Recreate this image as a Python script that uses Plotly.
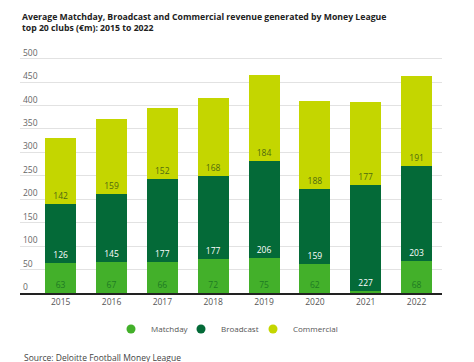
import plotly.graph_objects as go

years = ["2015", "2016", "2017", "2018", "2019", "2020", "2021", "2022"]
matchday = [63, 67, 66, 72, 75, 62, 4, 68]
broadcast = [126, 145, 177, 177, 206, 159, 227, 203]
commercial = [142, 159, 152, 168, 184, 188, 177, 191]

y_ticks = [0, 50, 100, 150, 200, 250, 300, 350, 400, 450, 500]

FONT = "Open Sans"
C_MATCH = "#43B02A"
C_BROAD = "#046A38"
C_COMM = "#C4D600"

# page body has an 8px default margin: draw a figure 8px smaller and
# express all positions in page pixels minus that offset
OFF = 8
W, H = 474 - OFF, 362 - OFF
PL, PR, PT, PB = 20 - OFF, 442 - OFF, 42 - OFF, 293 - OFF   # plot area box
YMAX = (293 - 42) / ((293 - 58.6) / 500)

def labels(vals):
    return [str(v) if v >= 10 else "" for v in vals]

series = [
    ("Matchday", matchday, C_MATCH, "#1E7A23"),
    ("Broadcast", broadcast, C_BROAD, "#FFFFFF"),
    ("Commercial", commercial, C_COMM, "#4E6A10"),
]
# left edge (page px) of each legend entry
legend_left = [111, 181, 253]
legend_ids = ["legend", "legend2", "legend3"]

fig = go.Figure()
for name, vals, col, tcol in series:
    fig.add_trace(go.Bar(
        name=name, x=years, y=vals, marker=dict(color=col, line=dict(width=0)),
        text=labels(vals), textposition="inside", insidetextanchor="start",
        textfont=dict(family=FONT, size=8.5, color=tcol),
        constraintext="none", textangle=0, showlegend=False,
    ))

for (name, _, col, _), lid in zip(series, legend_ids):
    fig.add_trace(go.Scatter(
        x=[None], y=[None], mode="markers", name=name, legend=lid,
        marker=dict(color=col, size=9, symbol="circle"),
    ))

legend_common = dict(
    orientation="h", xanchor="left",
    yref="container", y=1 - (329 - OFF) / H, yanchor="middle",
    font=dict(family=FONT, size=8, color="#555"),
    bgcolor="rgba(0,0,0,0)",
)

fig.update_layout(
    width=W, height=H,
    barmode="stack", bargap=0.39,
    paper_bgcolor="white", plot_bgcolor="white",
    margin=dict(l=PL, r=W - PR, t=PT, b=H - PB, autoexpand=False),
    font=dict(family=FONT, size=8.5, color="#555"),
    title=dict(
        text="<b>Average Matchday, Broadcast and Commercial revenue generated by Money League<br>top 20 clubs (€m): 2015 to 2022</b>",
        x=(22 - OFF) / W, xanchor="left", y=1 - 12 / H, yanchor="top",
        font=dict(family=FONT, size=8.7, color="#222"),
    ),
    xaxis=dict(
        type="category", range=[-0.8, 7.5], showgrid=False,
        showline=True, linecolor="#222", linewidth=2,
        ticks="", tickfont=dict(family=FONT, size=8.5, color="#555"),
        fixedrange=True, automargin=False,
    ),
    yaxis=dict(
        range=[0, YMAX], tickvals=y_ticks, ticktext=[str(t) for t in y_ticks],
        ticklabelposition="inside top", showgrid=True, gridcolor="#E2E2E2", gridwidth=1,
        zeroline=False, showline=False, ticks="",
        tickfont=dict(family=FONT, size=8.5, color="#666"),
        fixedrange=True, automargin=False,
    ),
    showlegend=True,
)
layout_legends = {}
for lid, left in zip(legend_ids, legend_left):
    layout_legends[lid] = dict(legend_common, x=(left - 20) / (PR - PL))
fig.update_layout(**layout_legends)

fig.add_annotation(
    text="Source: Deloitte Football Money League",
    xref="paper", yref="paper", x=(22 - 20) / (PR - PL), y=-(357 - 293) / (PB - PT),
    xanchor="left", yanchor="middle", showarrow=False,
    font=dict(family=FONT, size=8.5, color="#444"),
)

fig.write_html("out.html")
